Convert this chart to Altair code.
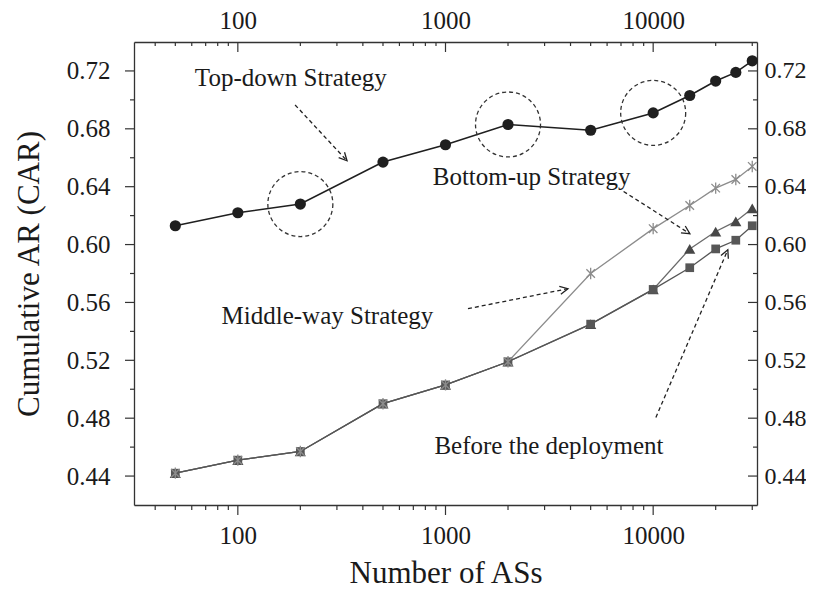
import math
import altair as alt
import pandas as pd

# ---------------- data ----------------
x_ases = [50, 100, 200, 500, 1000, 2000, 5000, 10000, 15000, 20000, 25000, 30000]
top_down = [0.613, 0.622, 0.628, 0.657, 0.669, 0.683, 0.679, 0.691, 0.703, 0.713, 0.719, 0.727]
middle_way = [0.442, 0.451, 0.457, 0.490, 0.503, 0.519, 0.580, 0.611, 0.627, 0.639, 0.645, 0.654]
bottom_up = [0.442, 0.451, 0.457, 0.490, 0.503, 0.519, 0.545, 0.569, 0.597, 0.609, 0.616, 0.625]
before_dep = [0.442, 0.451, 0.457, 0.490, 0.503, 0.519, 0.545, 0.569, 0.584, 0.597, 0.603, 0.613]

x_major = [100, 1000, 10000]
x_minor = [40, 50, 60, 70, 80, 90, 200, 300, 400, 500, 600, 700, 800, 900,
           2000, 3000, 4000, 5000, 6000, 7000, 8000, 9000, 20000, 30000]
y_major = [0.44, 0.48, 0.52, 0.56, 0.60, 0.64, 0.68, 0.72]
y_minor = [0.46, 0.50, 0.54, 0.58, 0.62, 0.66, 0.70]

circled_x = [200, 2000, 10000]

ann_text = ["Top-down Strategy", "Bottom-up Strategy", "Middle-way Strategy", "Before the deployment"]
ann_x = [180, 2600, 270, 3150]
ann_y = [0.7096, 0.6413, 0.5454, 0.455]
arr_x1 = [188.7, 7205, 1283, 10305]
arr_y1 = [0.6965, 0.6367, 0.5557, 0.4805]
arr_x2 = [335.7, 15020, 3886, 22880]
arr_y2 = [0.6579, 0.6075, 0.5695, 0.5964]

# ---------------- layout ----------------
W, H = 623, 463
XMIN, XMAX = 10 ** 1.5, 10 ** 4.5
YMIN, YMAX = 0.42, 0.74
SERIF = "Liberation Serif"
INK = "#1a1a1a"
AX = "#333333"

xs = alt.Scale(type="log", domain=[XMIN, XMAX], nice=False)
ys = alt.Scale(domain=[YMIN, YMAX], nice=False, zero=False)


def X(field, axis=None):
    return alt.X(field, type="quantitative", scale=xs, axis=axis)


def Y(field, axis=None):
    return alt.Y(field, type="quantitative", scale=ys, axis=axis)


common_lbl = dict(labelFont=SERIF, labelColor=INK, domainColor=AX,
                  domainWidth=1.3, grid=False, ticks=False, tickSize=0,
                  labelFlush=False, labelOverlap=False)

axis_bottom = alt.Axis(orient="bottom", values=x_major, format="d", labelPadding=38,
                       labelFontSize=25,
                       labelBaseline="alphabetic", title="Number of ASs", titleFont=SERIF,
                       titleFontSize=31, titleFontWeight="normal", titleColor=INK,
                       titleY=77, titleBaseline="alphabetic", **common_lbl)
axis_top = alt.Axis(orient="top", values=x_major, format="d", labelPadding=14,
                    labelFontSize=25,
                    labelBaseline="alphabetic", title=None, **common_lbl)
axis_left = alt.Axis(orient="left", values=y_major, format=".2f", labelPadding=24,
                     labelFontSize=25,
                     labelAlign="right", labelBaseline="middle",
                     title="Cumulative AR (CAR)", titleFont=SERIF, titleFontSize=31,
                     titleFontWeight="normal", titleColor=INK, titleAngle=270,
                     titleX=-105, titleY=H / 2, titleAlign="center",
                     titleBaseline="middle", **common_lbl)
axis_right = alt.Axis(orient="right", values=y_major, format=".2f", labelPadding=7,
                      labelFontSize=24,
                      labelAlign="left", labelBaseline="middle", title=None, **common_lbl)

df_top = pd.DataFrame({"x": x_ases, "y": top_down})
df_mid = pd.DataFrame({"x": x_ases, "y": middle_way})
df_bot = pd.DataFrame({"x": x_ases, "y": bottom_up})
df_bef = pd.DataFrame({"x": x_ases, "y": before_dep})

layers = []
# lines
layers.append(alt.Chart(df_mid).mark_line(color="#8c8c8c", strokeWidth=1.3).encode(x=X("x"), y=Y("y")))
layers.append(alt.Chart(df_bot).mark_line(color="#6a6a6a", strokeWidth=1.3).encode(x=X("x"), y=Y("y")))
layers.append(alt.Chart(df_bef).mark_line(color="#555555", strokeWidth=1.3).encode(x=X("x"), y=Y("y")))
layers.append(alt.Chart(df_top).mark_line(color="#1f1f1f", strokeWidth=1.6).encode(
    x=X("x", axis_bottom), y=Y("y", axis_left)))

# markers
ASTER = "M0,-1L0,1M-0.75,-0.75L0.75,0.75M-0.75,0.75L0.75,-0.75"
layers.append(alt.Chart(df_bot).mark_point(shape="triangle-up", size=125, filled=True,
                                           color="#474747", opacity=1).encode(x=X("x"), y=Y("y")))
layers.append(alt.Chart(df_bef).mark_point(shape="square", size=76, filled=True,
                                           color="#575757", opacity=1).encode(x=X("x"), y=Y("y")))
layers.append(alt.Chart(df_mid).mark_point(shape=ASTER, size=130, filled=False,
                                           stroke="#8c8c8c", strokeWidth=1.3, opacity=1).encode(
    x=X("x"), y=Y("y")))
layers.append(alt.Chart(df_top).mark_point(shape="circle", size=125, filled=True,
                                           color="#1f1f1f", opacity=1).encode(
    x=X("x", axis_top), y=Y("y", axis_right)))

# dashed circles around selected top-down points
df_circ = pd.DataFrame({"x": circled_x, "y": [top_down[x_ases.index(c)] for c in circled_x]})
layers.append(alt.Chart(df_circ).mark_point(shape="circle", size=4225, filled=False,
                                            stroke="#333333", strokeWidth=1.3,
                                            strokeDash=[4, 3], opacity=1).encode(x=X("x"), y=Y("y")))


# arrows
def px(v):
    return (math.log10(v) - math.log10(XMIN)) / (math.log10(XMAX) - math.log10(XMIN)) * W


def py(v):
    return (YMAX - v) / (YMAX - YMIN) * H


angles = []
for a, b, c, d in zip(arr_x1, arr_y1, arr_x2, arr_y2):
    dx = px(c) - px(a)
    dy = py(d) - py(b)
    angles.append(math.degrees(math.atan2(dx, -dy)) % 360)

df_arr = pd.DataFrame({"x1": arr_x1, "y1": arr_y1, "x2": arr_x2, "y2": arr_y2, "ang": angles})
layers.append(alt.Chart(df_arr).mark_rule(color="#222222", strokeWidth=1.3, strokeDash=[4, 3]).encode(
    x=X("x1"), y=Y("y1"), x2="x2", y2="y2"))
VHEAD = "M-0.5,1L0,0L0.5,1"
layers.append(alt.Chart(df_arr).mark_point(shape=VHEAD, size=256, filled=False, stroke="#222222",
                                           strokeWidth=1.3, opacity=1).encode(
    x=X("x2"), y=Y("y2"), angle=alt.Angle("ang:Q", scale=None)))

# annotation texts
df_ann = pd.DataFrame({"x": ann_x, "y": ann_y, "t": ann_text})
layers.append(alt.Chart(df_ann).mark_text(font=SERIF, fontSize=25, align="center",
                                          baseline="alphabetic", color=INK).encode(
    x=X("x"), y=Y("y"), text="t:N"))

# ticks
TK = dict(color=AX, strokeWidth=1.2)
dxM = pd.DataFrame({"x": x_major})
dxm = pd.DataFrame({"x": x_minor})
dyM = pd.DataFrame({"y": y_major})
dym = pd.DataFrame({"y": y_minor})
layers.append(alt.Chart(dxM).mark_rule(**TK).encode(x=X("x"), y=alt.value(H), y2=alt.value(H + 10)))
layers.append(alt.Chart(dxm).mark_rule(**TK).encode(x=X("x"), y=alt.value(H), y2=alt.value(H + 5)))
layers.append(alt.Chart(dxM).mark_rule(**TK).encode(x=X("x"), y=alt.value(0), y2=alt.value(10)))
layers.append(alt.Chart(dxm).mark_rule(**TK).encode(x=X("x"), y=alt.value(0), y2=alt.value(4)))
layers.append(alt.Chart(dyM).mark_rule(**TK).encode(y=Y("y"), x=alt.value(-9), x2=alt.value(0)))
layers.append(alt.Chart(dym).mark_rule(**TK).encode(y=Y("y"), x=alt.value(-4), x2=alt.value(0)))
layers.append(alt.Chart(dyM).mark_rule(**TK).encode(y=Y("y"), x=alt.value(W - 9), x2=alt.value(W)))
layers.append(alt.Chart(dym).mark_rule(**TK).encode(y=Y("y"), x=alt.value(W - 4), x2=alt.value(W)))

chart = alt.layer(*layers).resolve_axis(x="independent", y="independent").properties(
    width=W, height=H,
    padding={"left": 126, "top": 34, "right": 49, "bottom": 83},
    autosize=alt.AutoSizeParams(type="none"),
    background="white",
).configure_view(stroke=None)

chart.save("out.html", embed_options={"renderer": "svg", "actions": False})
